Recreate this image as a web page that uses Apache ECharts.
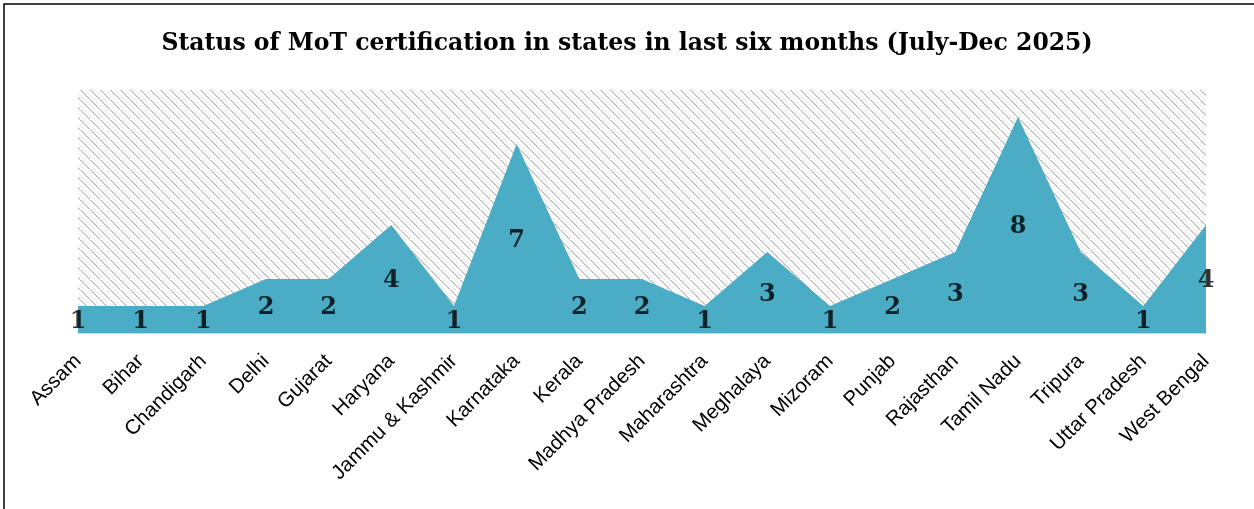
<!DOCTYPE html>
<html>
<head>
<meta charset="utf-8">
<script src="https://cdn.jsdelivr.net/npm/echarts@6/dist/echarts.min.js"></script>
<style>
  html, body { margin: 0; padding: 0; background: #fff; }
  #chart { width: 1254px; height: 509px; }
</style>
</head>
<body>
<div id="chart"></div>
<script>
var states = ['Assam', 'Bihar', 'Chandigarh', 'Delhi', 'Gujarat', 'Haryana', 'Jammu & Kashmir',
  'Karnataka', 'Kerala', 'Madhya Pradesh', 'Maharashtra', 'Meghalaya', 'Mizoram', 'Punjab',
  'Rajasthan', 'Tamil Nadu', 'Tripura', 'Uttar Pradesh', 'West Bengal'];
var certs = [1, 1, 1, 2, 2, 4, 1, 7, 2, 2, 1, 3, 1, 2, 3, 8, 3, 1, 4];

// hatched plot background, like excel's pattern fill
function makeHatch() {
  var c = document.createElement('canvas');
  c.width = 10; c.height = 10;
  var ctx = c.getContext('2d');
  ctx.fillStyle = '#ffffff';
  ctx.fillRect(0, 0, 10, 10);
  for (var i = 0; i < 10; i++) {
    ctx.fillStyle = i % 2 ? '#d0d0d0' : '#c2c2c2';
    ctx.fillRect(i, i, 2, 1);
    ctx.fillStyle = '#eaeaea';
    ctx.fillRect((i + 5) % 10, i, 1, 1);
  }
  return c;
}

// label sits halfway up the filled area
var labelPts = certs.map(function (v) { return v / 2; });

var myChart = echarts.init(document.getElementById('chart'));
var option = {
  animation: false,
  backgroundColor: '#ffffff',
  title: {
    text: 'Status of MoT certification in states in last six months (July-Dec 2025)',
    left: 'center',
    top: 27,
    textStyle: {
      fontFamily: 'DejaVu Serif',
      fontWeight: 'bold',
      fontSize: 23.5,
      color: '#000'
    }
  },
  graphic: [{
    type: 'rect',
    shape: { x: 4, y: 4, width: 1300, height: 600 },
    style: { fill: 'none', stroke: '#000', lineWidth: 1.5 },
    silent: true
  }],
  grid: {
    left: 78,
    right: 48,
    top: 90,
    bottom: 176,
    show: true,
    borderWidth: 0,
    backgroundColor: { image: makeHatch(), repeat: 'repeat' }
  },
  xAxis: {
    type: 'category',
    data: states,
    boundaryGap: false,
    axisLine: { show: true, lineStyle: { color: '#d4d4d4', width: 2 } },
    axisTick: { show: false },
    axisLabel: {
      rotate: 45,
      interval: 0,
      margin: 25,
      fontFamily: 'Liberation Sans',
      fontSize: 20.5,
      color: '#000'
    }
  },
  yAxis: {
    type: 'value',
    min: 0,
    max: 9,
    show: false
  },
  series: [{
    type: 'line',
    data: certs,
    symbol: 'none',
    lineStyle: { width: 0 },
    areaStyle: { color: '#4BACC6', opacity: 1 },
    z: 2
  }, {
    type: 'scatter',
    data: labelPts,
    symbolSize: 1,
    itemStyle: { color: 'rgba(0,0,0,0)' },
    label: {
      show: true,
      position: 'inside',
      offset: [0, 2],
      formatter: function (p) { return certs[p.dataIndex]; },
      fontFamily: 'DejaVu Serif',
      fontWeight: 'bold',
      fontSize: 24,
      color: '#000'
    },
    z: 3
  }]
};
myChart.setOption(option);
</script>
</body>
</html>
